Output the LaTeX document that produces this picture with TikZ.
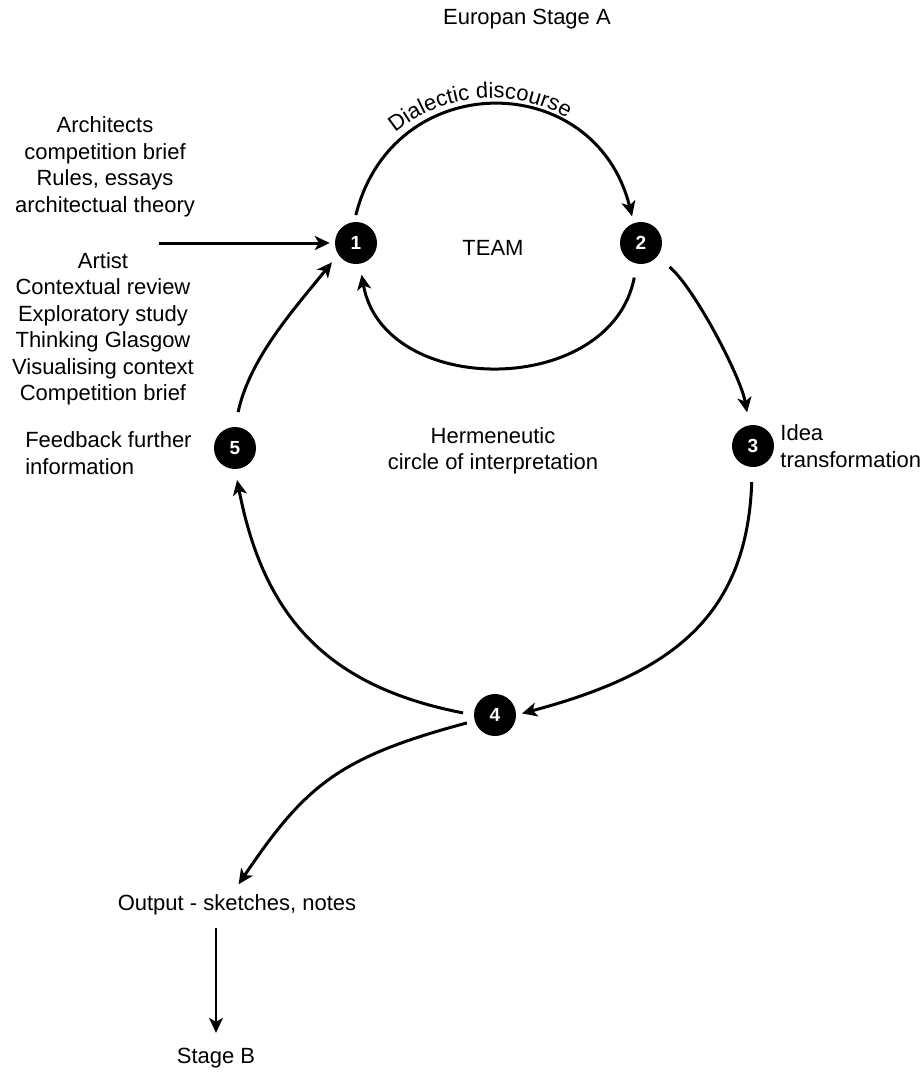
\documentclass[tikz,border=0pt]{standalone}
\usepackage{fontspec}
\setmainfont{Liberation Sans}
\usetikzlibrary{arrows.meta,positioning,decorations.text}
\newcommand{\diagfont}{\fontsize{22}{26.5}\selectfont}
\newcommand{\numfont}{\fontsize{19}{19}\selectfont\bfseries}

\begin{document}
\begin{tikzpicture}[x=1pt, y=1pt, >={Stealth[length=15pt,width=14pt,inset=4pt]},
  font=\diagfont,
  txt/.style={inner sep=2pt, align=center},
  num/.style={circle, fill=black, text=white, minimum size=42pt, inner sep=0pt, font=\numfont},
  flow/.style={line width=3pt, ->},
  thinflow/.style={line width=1.6pt, ->}]
\useasboundingbox (0,0) rectangle (924,-1072);
\node[txt] (title) at (527,-19) {Europan Stage A};
\node[num] (n1) at (356,-243) {1};
\node[num] (n2) at (641,-243) {2};
\node[num] (n3) at (753,-446) {3};
\node[num] (n4) at (495,-715) {4};
\node[num] (n5) at (235,-448) {5};
\node[txt] (team) at (493,-248) {TEAM};
\node[txt] (herm) at (493,-451) {Hermeneutic\\circle of interpretation};
\node[txt, align=left, right=4pt of n3] (idea) {Idea\\transformation};
\node[txt, align=left, left=20pt of n5, yshift=-5pt] (feed) {Feedback further\\information};
\node[txt] (arch) at (105,-167) {Architects\\competition brief\\Rules, essays\\architectual theory};
\node[txt] (artist) at (103,-329) {Artist\\Contextual review\\Exploratory study\\Thinking Glasgow\\Visualising context\\Competition brief};
\node[txt] (output) at (237,-905) {Output - sketches, notes};
\node[txt] (stageb) at (216,-1058) {Stage B};
\coordinate (inlet) at (159,-243);

\draw[flow, shorten <=7pt, shorten >=7pt] (n1.95) .. controls +(76:160) and +(104:160) .. (n2.110);
\path[decorate, decoration={text along path, text={|\diagfont|Dialectic discourse}, text align=center}]
  (492,-250) ++(135:152) arc[start angle=135, end angle=55, radius=152pt];
\draw[flow, shorten <=14pt, shorten >=11pt] (n2) .. controls +(-101:158) and +(-80:158) .. (n1);
\draw[flow, shorten <=16pt, shorten >=13pt] (n2) .. controls +(-40:70) and +(100:70) .. (n3);
\draw[flow, shorten <=15pt, shorten >=6pt] (n3) .. controls +(-92:175) and +(15:155) .. (n4.east);
\draw[flow, shorten <=11pt, shorten >=11pt] (n4.west) .. controls +(169:150) and +(-79:150) .. (n5.south);
\draw[flow, shorten <=15pt, shorten >=10pt] (n5.north) .. controls +(78:70) and +(231:70) .. (n1.213);
\draw[flow, shorten >=5pt] (inlet) -- (n1);
\draw[flow, shorten <=8pt, shorten >=10pt] (n4.196) .. controls +(195:140) and +(56:130) .. ([xshift=-4pt]output.north);
\draw[thinflow, shorten <=11pt, shorten >=13pt] (output.south -| stageb.north) -- (stageb.north);
\end{tikzpicture}
\end{document}
